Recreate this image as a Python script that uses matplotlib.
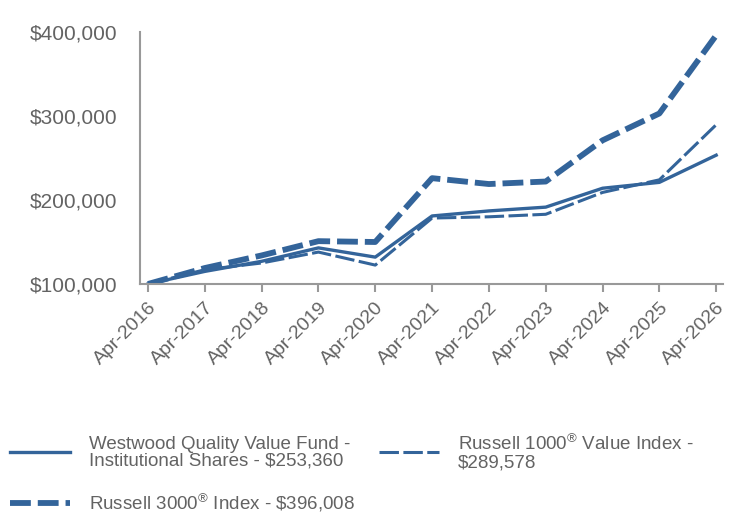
import matplotlib
matplotlib.use("Agg")
import matplotlib.pyplot as plt
from matplotlib.ticker import FuncFormatter

# growth of $100,000 investment
years = ["Apr-2016", "Apr-2017", "Apr-2018", "Apr-2019", "Apr-2020", "Apr-2021",
         "Apr-2022", "Apr-2023", "Apr-2024", "Apr-2025", "Apr-2026"]
fund = [100000, 115000, 127000, 143000, 132000, 181000,
        187000, 191500, 214000, 221000, 253360]
r1000v = [100000, 117000, 125000, 138000, 122500, 178500,
          180000, 183000, 209000, 224000, 289578]
r3000 = [100000, 119000, 134000, 151000, 150000, 226000,
         219000, 222000, 271000, 303000, 396008]

fund_label = "Westwood Quality Value Fund -\nInstitutional Shares - \\$253,360"
r1000v_label = "Russell 1000$^{®}$ Value Index -\n\\$289,578"
r3000_label = "Russell 3000$^{®}$ Index - \\$396,008"

COLOR = "#33649a"
GRAY = "#999999"
TEXT = "#636363"

plt.rcParams["font.family"] = ["Liberation Sans", "DejaVu Sans"]
plt.rcParams["mathtext.fontset"] = "custom"
plt.rcParams["mathtext.rm"] = "Liberation Sans"
plt.rcParams["mathtext.it"] = "Liberation Sans"
plt.rcParams["lines.scale_dashes"] = False

fig = plt.figure(figsize=(7.44, 5.16), dpi=100)
ax = fig.add_axes([140 / 744, 1 - 284 / 516, (723 - 140) / 744, (284 - 32) / 516])

x = list(range(len(years)))
l1, = ax.plot(x, fund, color=COLOR, lw=2.4)
l2, = ax.plot(x, r1000v, color=COLOR, lw=2.2, linestyle=(0, (14, 3.2)))
l3, = ax.plot(x, r3000, color=COLOR, lw=4.2, linestyle=(0, (15, 5)))

ax.set_xlim(-0.14, 10.12)
ax.set_ylim(100000, 400000)
ax.set_yticks([100000, 200000, 300000, 400000])
ax.yaxis.set_major_formatter(FuncFormatter(lambda v, p: f"${v:,.0f}"))
ax.set_xticks(x)
ax.set_xticklabels(years, rotation=45, ha="right", rotation_mode="anchor")

for side in ["top", "right"]:
    ax.spines[side].set_visible(False)
for side in ["left", "bottom"]:
    ax.spines[side].set_color(GRAY)
    ax.spines[side].set_linewidth(1.5)

ax.tick_params(axis="y", length=0, pad=16.5, labelsize=15, labelcolor=TEXT)
ax.tick_params(axis="x", length=6, width=1.5, color=GRAY, pad=5,
               labelsize=14, labelcolor=TEXT)

# legend: two columns, fund + russell 3000 in first column
leg = fig.legend([l1, l3, l2], [fund_label, r3000_label, r1000v_label],
                 loc="upper left", bbox_to_anchor=(10 / 744, 1 - 434 / 516),
                 ncol=2, frameon=False, fontsize=13.5, handlelength=3.2,
                 handletextpad=1.0, columnspacing=1.3, labelspacing=1.2,
                 borderpad=0, borderaxespad=0, labelcolor=TEXT)
for t in leg.get_texts():
    t.set_linespacing(1.0)

fig.savefig("out.png", dpi=100)
